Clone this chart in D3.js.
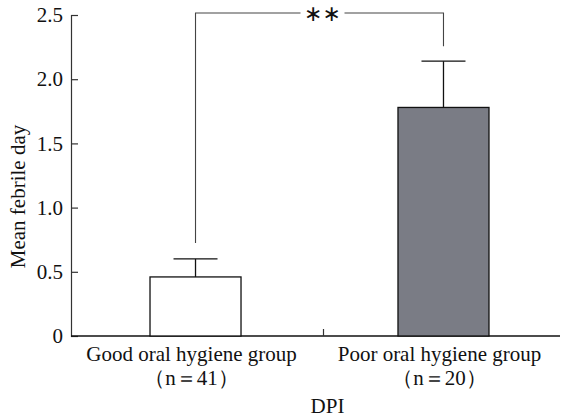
<!DOCTYPE html>
<html>
<head>
<meta charset="utf-8">
<script src="https://cdn.jsdelivr.net/npm/d3@7"></script>
<style>
  html, body { margin: 0; padding: 0; background: #fff; }
  text { font-family: "Liberation Serif", "Times New Roman", serif; fill: #111; }
</style>
</head>
<body>
<svg id="chart" width="565" height="418"></svg>
<script>
// Group labels, sample sizes and statistics
const groups = ["Good oral hygiene group", "Poor oral hygiene group"];
const sampleLabels = ["（n＝41）", "（n＝20）"];
const means = [0.46, 1.78];
const errors = [0.14, 0.36];
const fills = ["#ffffff", "#7a7c85"];
const yTicks = [0, 0.5, 1.0, 1.5, 2.0, 2.5];
const yTickLabels = ["0", "0.5", "1.0", "1.5", "2.0", "2.5"];

const svg = d3.select("#chart");
const W = 565, H = 418;
const plotLeft = 71, axisRight = 560, plotTop = 15, plotBottom = 82;
const fontSize = "21px";

const x = d3.scaleBand().domain(groups).range([75, 564])
  .paddingInner(0.633).paddingOuter(0.3025);
const y = d3.scaleLinear().domain([0, 2.5]).range([H - plotBottom, plotTop]);

const axisColor = "#333";

// Y axis with inward ticks
const yAxis = svg.append("g").attr("transform", `translate(${plotLeft},0)`)
  .call(d3.axisLeft(y).tickValues(yTicks).tickSize(-7).tickPadding(8)
    .tickFormat((d, i) => yTickLabels[i]));
yAxis.select(".domain").attr("stroke", axisColor).attr("stroke-width", 1.2);
yAxis.selectAll(".tick line").attr("stroke", axisColor).attr("stroke-width", 1.2);
yAxis.selectAll(".tick text").style("font-size", fontSize).attr("fill", "#111")
  .style("font-family", '"Liberation Serif", serif');

// X axis baseline with a single centre tick
const x0 = y(0);
svg.append("line").attr("x1", plotLeft).attr("x2", axisRight)
  .attr("y1", x0).attr("y2", x0).attr("stroke", "#111").attr("stroke-width", 1.4);
const c0 = x(groups[0]) + x.bandwidth() / 2;
const c1 = x(groups[1]) + x.bandwidth() / 2;
const midX = (c0 + c1) / 2 + 4;
svg.append("line").attr("x1", midX).attr("x2", midX)
  .attr("y1", x0).attr("y2", x0 - 7).attr("stroke", axisColor).attr("stroke-width", 1.2);

// Bars
svg.selectAll("rect.bar").data(groups).join("rect")
  .attr("class", "bar")
  .attr("x", d => x(d))
  .attr("width", x.bandwidth())
  .attr("y", (d, i) => y(means[i]))
  .attr("height", (d, i) => y(0) - y(means[i]))
  .attr("fill", (d, i) => fills[i])
  .attr("stroke", "#111").attr("stroke-width", 1.3);

// Upper error bars
const capHalf = 22;
groups.forEach((g, i) => {
  const cx = x(g) + x.bandwidth() / 2;
  svg.append("line").attr("x1", cx).attr("x2", cx)
    .attr("y1", y(means[i])).attr("y2", y(means[i] + errors[i]))
    .attr("stroke", "#111").attr("stroke-width", 1.3);
  svg.append("line").attr("x1", cx - capHalf).attr("x2", cx + capHalf)
    .attr("y1", y(means[i] + errors[i])).attr("y2", y(means[i] + errors[i]))
    .attr("stroke", "#111").attr("stroke-width", 1.3);
});

// Significance bracket
const by = 13;
const starX = midX - 1;
const bracket = svg.append("g").attr("stroke", "#444").attr("stroke-width", 1.1).attr("fill", "none");
bracket.append("path").attr("d",
  `M${c0},${y(means[0] + errors[0]) - 16} V${by} H${starX - 22}`);
bracket.append("path").attr("d",
  `M${starX + 22},${by} H${c1} V${y(means[1] + errors[1]) - 15}`);
svg.append("text").attr("x", starX).attr("y", by + 8)
  .attr("text-anchor", "middle")
  .style("font-family", '"DejaVu Sans", sans-serif').style("font-size", "22px")
  .text("∗∗");

// Category labels
groups.forEach((g, i) => {
  const cx = x(g) + x.bandwidth() / 2 - 4;
  svg.append("text").attr("x", cx).attr("y", 361).attr("text-anchor", "middle")
    .style("font-size", fontSize).text(g);
  svg.append("text").attr("x", cx).attr("y", 385).attr("text-anchor", "middle")
    .style("font-size", fontSize).text(sampleLabels[i]);
});

// Axis titles
svg.append("text").attr("x", midX + 4).attr("y", 413).attr("text-anchor", "middle")
  .style("font-size", fontSize).text("DPI");
svg.append("text").attr("transform", `translate(25,${(plotTop + x0) / 2 + 21}) rotate(-90)`)
  .attr("text-anchor", "middle").style("font-size", fontSize).text("Mean febrile day");
</script>
</body>
</html>
